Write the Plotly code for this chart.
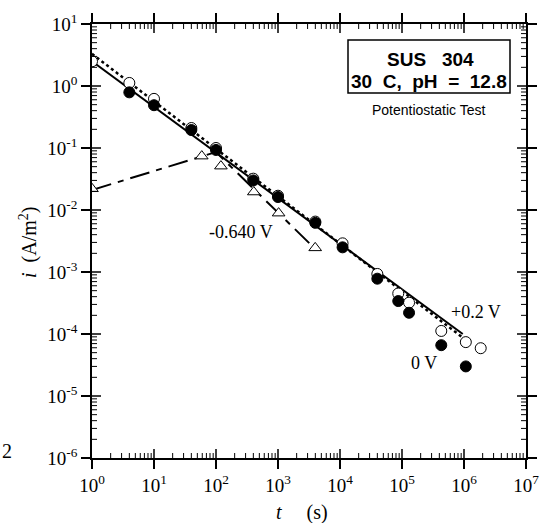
import plotly.graph_objects as go

# +0.2 V (open circles)
t_open = [1, 4, 10, 40, 100, 400, 1000, 4000, 11000, 40000, 87000, 130000, 430000, 1070000, 1860000]
i_open = [2.5, 1.12, 0.62, 0.21, 0.10, 0.032, 0.017, 0.0065, 0.0029, 9.3e-4, 4.5e-4, 3.2e-4, 1.12e-4, 7.4e-5, 5.9e-5]

# 0 V (filled circles)
t_fill = [4, 10, 40, 100, 400, 1000, 4000, 11000, 40000, 87000, 130000, 430000, 1070000]
i_fill = [0.79, 0.49, 0.195, 0.093, 0.030, 0.0162, 0.0062, 0.0025, 7.8e-4, 3.4e-4, 2.2e-4, 6.6e-5, 3.0e-5]

# -0.640 V (triangles)
t_tri = [1, 59, 120, 407, 1023, 3981]
i_tri = [0.022, 0.074, 0.051, 0.0195, 0.0089, 0.00245]

# guide lines
t_solid = [1, 955000]
i_solid = [2.5, 1.0e-4]
t_dot = [1, 933000]
i_dot = [3.3, 8.9e-5]
t_dd = [1, 100, 3600]
i_dd = [0.021, 0.086, 0.0026]

x_decades = list(range(0, 8))
y_decades = list(range(-6, 2))
x_tickvals = [10 ** k for k in x_decades]
x_ticktext = ["10<sup>%d</sup>" % k for k in x_decades]
y_tickvals = [10.0 ** k for k in y_decades]
y_ticktext = ["10<sup>%d</sup>" % k for k in y_decades]
x_minor = [m * 10 ** k for k in x_decades[:-1] for m in range(2, 10)]
y_minor = [m * 10.0 ** k for k in y_decades[:-1] for m in range(2, 10)]

SERIF = "Liberation Serif"
SANS = "Liberation Sans"

X0, X1 = 10 ** x_decades[0], 10 ** x_decades[-1]
Y0, Y1 = 10.0 ** y_decades[0], 10.0 ** y_decades[-1]
PX_PER_DEC = 434.0 / 7.0


def inner_ticks(xvals, yvals, length_px):
    """Tick segments pointing into the plot from all four frame edges."""
    f = 10 ** (length_px / PX_PER_DEC)
    xs, ys = [], []
    for v in xvals:
        xs += [v, v, None, v, v, None]
        ys += [Y0, Y0 * f, None, Y1, Y1 / f, None]
    for v in yvals:
        xs += [X0, X0 * f, None, X1, X1 / f, None]
        ys += [v, v, None, v, v, None]
    return xs, ys


fig = go.Figure()
fig.add_trace(go.Scatter(x=t_dot, y=i_dot, mode="lines",
                         line=dict(color="black", width=2.5, dash="dot")))
fig.add_trace(go.Scatter(x=t_solid, y=i_solid, mode="lines",
                         line=dict(color="black", width=2)))
fig.add_trace(go.Scatter(x=t_dd, y=i_dd, mode="lines",
                         line=dict(color="black", width=2, dash="20px,7px,6px,7px")))
fig.add_trace(go.Scatter(x=t_open, y=i_open, mode="markers",
                         marker=dict(symbol="circle", size=11, color="white",
                                     line=dict(color="black", width=1))))
fig.add_trace(go.Scatter(x=t_fill, y=i_fill, mode="markers",
                         marker=dict(symbol="circle", size=11, color="black",
                                     line=dict(color="black", width=1))))
fig.add_trace(go.Scatter(x=t_tri, y=i_tri, mode="markers",
                         marker=dict(symbol="triangle-up", size=11, color="white",
                                     line=dict(color="black", width=1))))
# inner halves of major ticks and inner minor ticks
mx, my = inner_ticks(x_tickvals[1:-1], y_tickvals[1:-1], 9)
fig.add_trace(go.Scatter(x=mx, y=my, mode="lines", line=dict(color="black", width=1.5),
                         hoverinfo="skip", connectgaps=False))
nx, ny = inner_ticks(x_minor, y_minor, 5)
fig.add_trace(go.Scatter(x=nx, y=ny, mode="lines", line=dict(color="black", width=1),
                         hoverinfo="skip", connectgaps=False))

base = dict(type="log", showgrid=False, zeroline=False)
fig.update_layout(
    template="none",
    width=544, height=523,
    margin=dict(l=92, r=18, t=24, b=65, autoexpand=False),
    paper_bgcolor="white", plot_bgcolor="white",
    showlegend=False,
    xaxis=dict(**base, range=[0, 7], tickvals=x_tickvals, ticktext=x_ticktext,
               ticks="outside", ticklen=9, tickwidth=1.5, tickcolor="black", mirror="allticks",
               showline=True, linecolor="black", linewidth=1.5, automargin=False,
               tickfont=dict(family=SERIF, size=19, color="black")),
    yaxis=dict(**base, range=[-6, 1], tickvals=y_tickvals, ticktext=y_ticktext,
               ticks="outside", ticklen=9, tickwidth=1.5, tickcolor="black", mirror="allticks",
               showline=True, linecolor="black", linewidth=1.5, automargin=False,
               tickfont=dict(family=SERIF, size=19, color="black")),
)

W, H, L, B = 434.0, 434.0, 92.0, 458.0
def px(x):
    return (x - L) / W
def py(y):
    return (B - y) / H

# legend box
fig.add_shape(type="rect", xref="paper", yref="paper",
              x0=px(348), x1=px(510), y0=py(93), y1=py(40),
              line=dict(color="black", width=1.5), fillcolor="white", layer="above")

NB = "\u00a0"
annots = [
    dict(text="<b>SUS" + NB * 3 + "304</b>", x=px(430), y=py(59), font=dict(family=SANS, size=19)),
    dict(text="<b>30" + NB * 2 + "C," + NB * 2 + "pH" + NB * 2 + "=" + NB * 2 + "12.8</b>",
         x=px(429), y=py(81), font=dict(family=SANS, size=19)),
    dict(text="Potentiostatic Test", x=px(428), y=py(110), font=dict(family=SANS, size=14)),
    dict(text="-0.640 V", x=px(241), y=py(232), font=dict(family=SERIF, size=18)),
    dict(text="+0.2 V", x=px(476), y=py(312), font=dict(family=SERIF, size=18)),
    dict(text="0 V", x=px(424), y=py(363), font=dict(family=SERIF, size=18)),
    dict(text="<i>t</i>" + NB * 5 + "(s)", x=px(302), y=py(512), font=dict(family=SERIF, size=20)),
    dict(text="<i>i</i>" + NB * 2 + "(A/m<sup>2</sup>)", x=px(28), y=py(243), textangle=-90,
         font=dict(family=SERIF, size=20)),
    dict(text="2", x=px(7), y=py(451), font=dict(family=SERIF, size=20)),
]
for a in annots:
    a.setdefault("xref", "paper")
    a.setdefault("yref", "paper")
    a["showarrow"] = False
    a["xanchor"] = "center"
    a["yanchor"] = "middle"
    a["font"]["color"] = "black"
    fig.add_annotation(**a)

fig.write_html("out.html")
